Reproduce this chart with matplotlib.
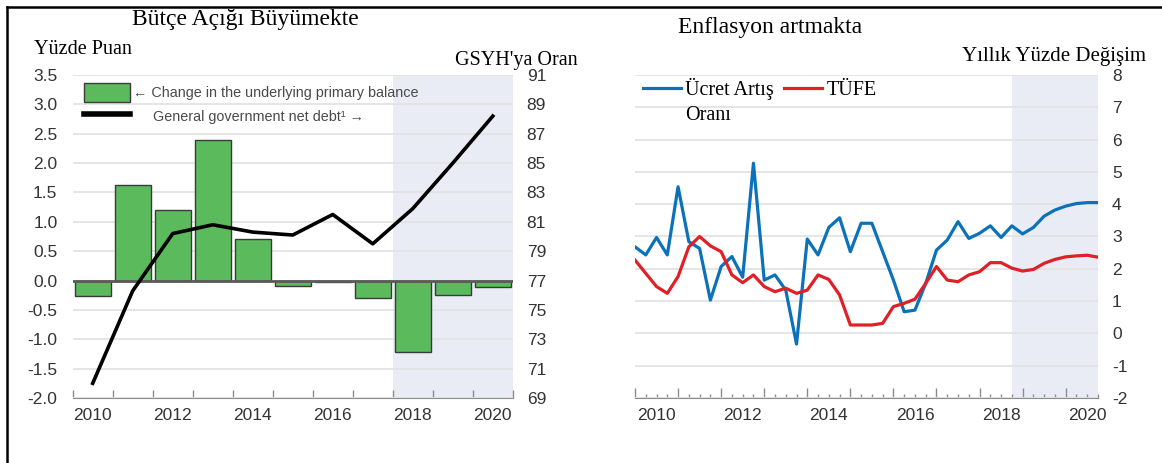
import numpy as np
import matplotlib
matplotlib.use("Agg")
import matplotlib.pyplot as plt
import matplotlib.ticker as mticker
from matplotlib.lines import Line2D
from matplotlib.patches import Patch

# ---- left panel: budget balance vs net debt (annual) ----
years = [2010, 2011, 2012, 2013, 2014, 2015, 2016, 2017, 2018, 2019, 2020]
primary_balance_change = [-0.27, 1.63, 1.20, 2.40, 0.71, -0.10, -0.03, -0.29, -1.22, -0.24, -0.11]
net_debt = [70.0, 76.3, 80.2, 80.8, 80.3, 80.1, 81.5, 79.5, 81.9, 85.0, 88.2]
year_labels = ["2010", "2012", "2014", "2016", "2018", "2020"]

# ---- right panel: wages vs CPI (quarterly, 2010Q1 - 2020Q4) ----
first_year = 2010
wage_growth = [2.68, 2.43, 2.97, 2.43, 4.54, 2.84, 2.63, 1.03, 2.07, 2.38, 1.74,
               5.27, 1.65, 1.81, 1.34, -0.33, 2.92, 2.43, 3.28, 3.58, 2.53, 3.41,
               3.41, 2.53, 1.65, 0.67, 0.72, 1.55, 2.58, 2.89, 3.46, 2.94, 3.10,
               3.33, 2.97, 3.33, 3.08, 3.28, 3.63, 3.82, 3.94, 4.02, 4.05, 4.05]
cpi = [2.27, 1.86, 1.45, 1.24, 1.76, 2.68, 3.00, 2.71, 2.53, 1.81, 1.57,
       1.81, 1.45, 1.29, 1.40, 1.24, 1.34, 1.81, 1.67, 1.19, 0.26, 0.26,
       0.26, 0.31, 0.83, 0.93, 1.06, 1.55, 2.07, 1.65, 1.60, 1.81, 1.91,
       2.19, 2.19, 2.02, 1.93, 1.98, 2.17, 2.29, 2.37, 2.40, 2.42, 2.36]

SERIF = "Liberation Serif"
SANS = "Liberation Sans"
GREEN = "#5BBA5B"
BLUE = "#0B72BA"
RED = "#E01F26"
SHADE = "#E9ECF5"
GRID = "#E3E3E3"
AXIS = "#8C8C8C"
TICKTXT = "#333333"

plt.rcParams["font.family"] = [SANS, "DejaVu Sans"]
plt.rcParams["axes.unicode_minus"] = False

W, H = 1162, 463
fig = plt.figure(figsize=(W / 100, H / 100), dpi=100)


def px(x0, y0, x1, y1):
    # pixel box -> figure fraction rect
    return [x0 / W, 1 - y1 / H, (x1 - x0) / W, (y1 - y0) / H]


# ================= left panel =================
ax1 = fig.add_axes(px(72.7, 75, 512.8, 398))
ax1.set_xlim(2009.5, 2020.5)
ax1.set_ylim(-2, 3.5)
ax1.axvspan(2017.5, 2020.5, color=SHADE, lw=0, zorder=0)
ax1.set_yticks(np.arange(-2, 3.51, 0.5))
ax1.yaxis.set_major_formatter(mticker.FormatStrFormatter("%.1f"))
ax1.yaxis.grid(True, color=GRID, lw=1.3)
ax1.set_axisbelow(True)
ax1.bar(years, primary_balance_change, width=0.89, color=GREEN,
        edgecolor="#3a3a3a", lw=1, zorder=2)
ax1.axhline(0, color="#5a5a5a", lw=2, zorder=3)

ax1.set_xticks([int(y) for y in year_labels])
ax1.set_xticklabels(year_labels)
ax1.xaxis.set_minor_locator(mticker.FixedLocator(np.arange(2009.5, 2021, 1)))
ax1.tick_params(axis="x", which="major", length=0, pad=7, labelsize=12.5, labelcolor=TICKTXT)
ax1.tick_params(axis="x", which="minor", direction="in", length=6, color=AXIS, width=1)
ax1.tick_params(axis="y", length=0, pad=11, labelsize=12.5, labelcolor=TICKTXT)
for s in ["top", "left", "right"]:
    ax1.spines[s].set_visible(False)
ax1.spines["bottom"].set_color(AXIS)

ax2 = ax1.twinx()
ax2.set_ylim(69, 91)
ax2.set_yticks(range(69, 92, 2))
ax2.plot(years, net_debt, color="black", lw=2.6, zorder=4)
ax2.tick_params(axis="y", length=0, pad=10, labelsize=12.5, labelcolor=TICKTXT)
for s in ["top", "left", "right", "bottom"]:
    ax2.spines[s].set_visible(False)

handles = [Patch(facecolor=GREEN, edgecolor="#3a3a3a", lw=1),
           Line2D([], [], color="black", lw=4)]
labels = ["\u2190 Change in the underlying primary balance",
          "     General government net debt\u00b9 \u2192"]
leg = ax2.legend(handles, labels, loc="upper left", bbox_to_anchor=(0.026, 0.975),
                 frameon=False, fontsize=10.4, handlelength=3.2, handleheight=1.6,
                 handletextpad=0.15, labelspacing=0.35, borderpad=0, borderaxespad=0)
for t in leg.get_texts():
    t.set_color("#4a4a4a")

fig.text(245 / W, 1 - 20 / H, "Bütçe Açığı Büyümekte", family=SERIF, fontsize=17,
         ha="center", va="center")
fig.text(34 / W, 1 - 49 / H, "Yüzde Puan", family=SERIF, fontsize=14.5,
         ha="left", va="center")
fig.text(455 / W, 1 - 61 / H, "GSYH'ya Oran", family=SERIF, fontsize=14.5,
         ha="left", va="center")

# ================= right panel =================
ax3 = fig.add_axes(px(635, 75, 1098, 398))
qx = [first_year + i / 4 for i in range(len(wage_growth))]
ax3.set_xlim(first_year, qx[-1])
ax3.set_ylim(-2, 8)
ax3.axvspan(2018.75, qx[-1], color=SHADE, lw=0, zorder=0)
ax3.set_yticks(range(-2, 9))
ax3.yaxis.grid(True, color=GRID, lw=1.3)
ax3.set_axisbelow(True)
ax3.yaxis.tick_right()
ax3.tick_params(axis="y", length=0, pad=10, labelsize=12.5, labelcolor=TICKTXT)

ax3.plot(qx, wage_growth, color=BLUE, lw=2.3, zorder=3, label="Ücret Artış")
ax3.plot(qx, cpi, color=RED, lw=2.3, zorder=3, label="TÜFE")

ax3.xaxis.set_major_locator(mticker.FixedLocator(range(2010, 2021)))
ax3.xaxis.set_minor_locator(mticker.FixedLocator(qx))
ax3.xaxis.set_major_formatter(mticker.NullFormatter())
ax3.tick_params(axis="x", which="major", direction="in", length=7, color=AXIS, width=1)
ax3.tick_params(axis="x", which="minor", direction="in", length=3, color=AXIS, width=1)
for s in ["top", "left", "right"]:
    ax3.spines[s].set_visible(False)
ax3.spines["bottom"].set_color(AXIS)

sec = ax3.secondary_xaxis("bottom")
sec.set_xticks([int(y) + 0.5 for y in year_labels])
sec.set_xticklabels(year_labels)
sec.tick_params(length=0, pad=7, labelsize=12.5, labelcolor=TICKTXT)
sec.spines["bottom"].set_visible(False)

leg3 = ax3.legend(loc="upper left", bbox_to_anchor=(0.017, 0.99), ncol=2, frameon=False,
                  prop={"family": SERIF, "size": 14.5}, handlelength=1.9,
                  handletextpad=0.2, columnspacing=0.5, borderpad=0, borderaxespad=0)
fig.text(685 / W, 1 - 115 / H, "Oranı", family=SERIF, fontsize=14.5,
         ha="left", va="center")

fig.text(770 / W, 1 - 28 / H, "Enflasyon artmakta", family=SERIF, fontsize=17,
         ha="center", va="center")
fig.text(962 / W, 1 - 56 / H, "Yıllık Yüzde Değişim", family=SERIF, fontsize=15,
         ha="left", va="center")

# page frame (top and left rules)
fig.add_artist(Line2D([7 / W, 1], [1 - 7 / H, 1 - 7 / H], color="black", lw=1.8))
fig.add_artist(Line2D([7 / W, 7 / W], [0, 1 - 7 / H], color="black", lw=1.8))

fig.savefig("out.png", dpi=100, facecolor="white")
